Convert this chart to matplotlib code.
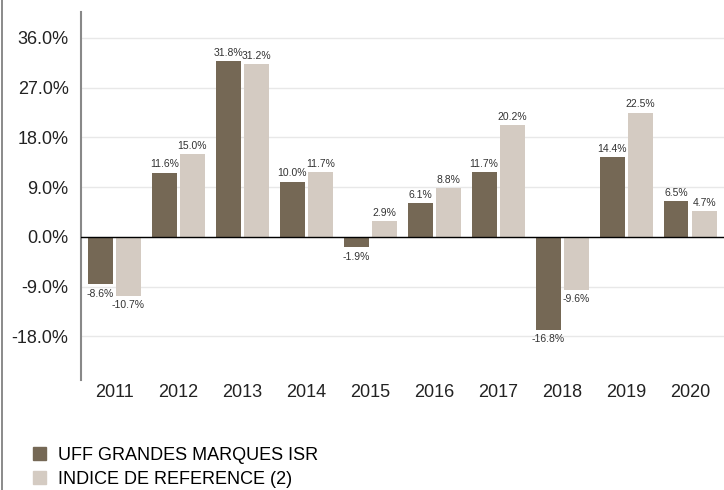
import numpy as np
import matplotlib.pyplot as plt
from matplotlib.lines import Line2D
from matplotlib.patches import Patch

plt.rcParams['font.family'] = ['Liberation Sans', 'DejaVu Sans']

years = ['2011', '2012', '2013', '2014', '2015', '2016', '2017', '2018', '2019', '2020']
fund = [-8.6, 11.6, 31.8, 10.0, -1.9, 6.1, 11.7, -16.8, 14.4, 6.5]
index = [-10.7, 15.0, 31.2, 11.7, 2.9, 8.8, 20.2, -9.6, 22.5, 4.7]
yticks = [-18, -9, 0, 9, 18, 27, 36]
labels = ['UFF GRANDES MARQUES ISR', 'INDICE DE REFERENCE (2)']

dark = '#756855'
light = '#d4cbc2'

fig = plt.figure(figsize=(7.24, 4.9), dpi=100)
ax = fig.add_axes([0.112, 0.2245, 0.888, 0.751])

x = np.arange(len(years))
w = 0.39
off = 0.22
ax.bar(x - off, fund, w, color=dark, zorder=2)
ax.bar(x + off, index, w, color=light, zorder=2)

for xs, vals in [(x - off, fund), (x + off, index)]:
    for xi, v in zip(xs, vals):
        if v >= 0:
            ax.text(xi, v + 0.6, f'{v:.1f}%', ha='center', va='bottom', fontsize=7.5, color='#333333')
        else:
            ax.text(xi, v - 0.8, f'{v:.1f}%', ha='center', va='top', fontsize=7.5, color='#333333')

ax.set_xlim(-0.52, 9.53)
ax.set_ylim(-25.9, 40.7)
ax.set_yticks(yticks)
ax.set_yticklabels([f'{t:.1f}%' for t in yticks], fontsize=13, color='#222222')
ax.set_xticks(x)
ax.set_xticklabels(years, fontsize=13, color='#222222')
ax.tick_params(axis='both', length=0)
ax.tick_params(axis='x', pad=3)
ax.tick_params(axis='y', pad=9)

ax.grid(axis='y', color='#e8e8e8', linewidth=1, zorder=0)
ax.axhline(0, color='black', linewidth=1, zorder=3)

for s in ['top', 'right', 'bottom']:
    ax.spines[s].set_visible(False)
ax.spines['left'].set_color('#888888')
ax.spines['left'].set_linewidth(1.5)

# gray border on the left of the figure
fig.add_artist(Line2D([0.003, 0.003], [0, 1], color='#777777', linewidth=1.2))

handles = [Patch(color=dark), Patch(color=light)]
fig.legend(handles, labels, loc='lower left', bbox_to_anchor=(0.045, 0.004),
           frameon=False, fontsize=13, handlelength=0.72, handleheight=0.72,
           handletextpad=0.7, labelspacing=0.38, borderaxespad=0, borderpad=0)

fig.savefig('out.png', dpi=100)
